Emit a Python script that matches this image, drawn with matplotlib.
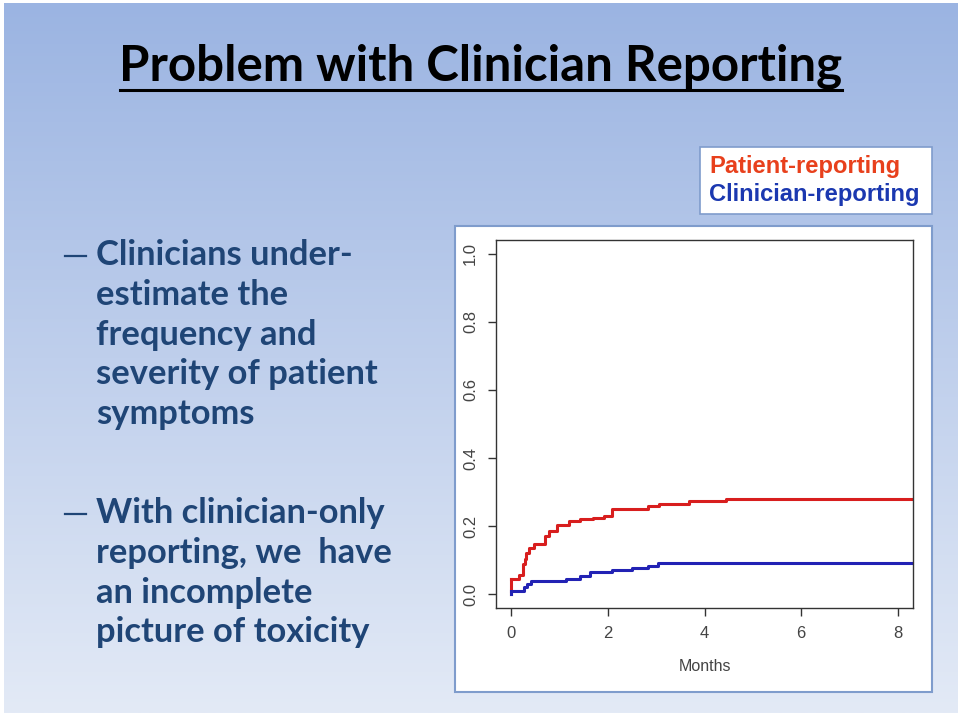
import numpy as np
import matplotlib.pyplot as plt
from matplotlib.patches import Rectangle

# cumulative incidence steps (months, proportion)
patient_t = [0, 0.15, 0.24, 0.28, 0.31, 0.36, 0.46, 0.69, 0.77, 0.94, 1.19,
             1.43, 1.68, 1.91, 2.08, 2.83, 3.05, 3.67, 4.44, 8.31]
patient_y = [0.045, 0.057, 0.09, 0.105, 0.12, 0.135, 0.148, 0.17, 0.186, 0.204, 0.214,
             0.22, 0.225, 0.231, 0.251, 0.258, 0.266, 0.274, 0.28, 0.28]
clinician_t = [0, 0.26, 0.32, 0.41, 1.12, 1.43, 1.63, 2.08, 2.5, 2.83, 3.03, 8.31]
clinician_y = [0.01, 0.023, 0.03, 0.04, 0.045, 0.054, 0.065, 0.071, 0.078, 0.084, 0.092, 0.092]

x_ticks = [0, 2, 4, 6, 8]
y_ticks = [0.0, 0.2, 0.4, 0.6, 0.8, 1.0]

title = 'Problem with Clinician Reporting'
bullet1 = ['Clinicians under-', 'estimate the', 'frequency and', 'severity of patient', 'symptoms']
bullet2 = ['With clinician-only', 'reporting, we  have', 'an incomplete', 'picture of toxicity']

W, H = 960, 716
fig = plt.figure(figsize=(9.6, 7.16), dpi=100)
fig.patch.set_facecolor('white')

# slide background gradient
bg = fig.add_axes([4 / W, 3 / H, 954 / W, 710 / H])
bg.set_zorder(-10)
top = np.array([0x9b, 0xb4, 0xe2]) / 255
bot = np.array([0xe3, 0xea, 0xf6]) / 255
grad = np.linspace(0, 1, 256)[:, None]
img = top[None, None, :] * (1 - grad[:, :, None]) + bot[None, None, :] * grad[:, :, None]
bg.imshow(img, aspect='auto', extent=[0, 1, 0, 1])
bg.axis('off')

def fx(px):
    return px / W

def fy(py):
    return 1 - py / H

# title with underline
fig.text(fx(481), fy(66), title, ha='center', va='center', fontsize=35.5,
         fontweight='bold', family='Lato', color='black')
fig.add_artist(plt.Line2D([fx(120), fx(842)], [fy(90), fy(90)], color='black', lw=2.2))

# bullets
text_color = '#1f4576'
for lines, y0 in [(bullet1, 255), (bullet2, 513)]:
    fig.add_artist(plt.Line2D([fx(65), fx(86)], [fy(y0 + 1), fy(y0 + 1)], color=text_color, lw=1.6))
    for i, line in enumerate(lines):
        fig.text(fx(96), fy(y0 + i * 39.8), line, ha='left', va='center', fontsize=24.8,
                 fontweight='bold', family='Lato', color=text_color)

# white frame behind the plot
fig.add_artist(Rectangle((fx(455), fy(692)), (932 - 455) / W, (692 - 226) / H,
                         transform=fig.transFigure, facecolor='white',
                         edgecolor='#7f9ccc', lw=1.5, zorder=1))

# legend box
fig.add_artist(Rectangle((fx(700), fy(214)), (932 - 700) / W, (214 - 147) / H,
                         transform=fig.transFigure, facecolor='white',
                         edgecolor='#7f9ccc', lw=1.2, zorder=1))
fig.text(fx(709), fy(167), 'Patient-reporting', ha='left', va='center', fontsize=17.1,
         fontweight='bold', family='Liberation Sans', color='#e8401c')
fig.text(fx(709), fy(195), 'Clinician-reporting', ha='left', va='center', fontsize=17.1,
         fontweight='bold', family='Liberation Sans', color='#1b38b0')

# plot
ax = fig.add_axes([fx(496), fy(608), (913 - 496) / W, (608 - 240) / H])
ax.set_zorder(5)
ax.step(patient_t, patient_y, where='post', color='#d81e1e', lw=2.2)
ax.step(clinician_t, clinician_y, where='post', color='#2222b4', lw=2.2)
ax.plot([0, 0], [0, patient_y[0]], color='#d81e1e', lw=2.2)
ax.plot([0, 0], [0, clinician_y[0]], color='#2222b4', lw=2.2)
ax.set_xlim(-0.32, 8.32)
ax.set_ylim(-0.04, 1.04)
ax.set_xticks(x_ticks)
ax.set_yticks(y_ticks)
ax.set_xticklabels([str(v) for v in x_ticks])
ax.set_yticklabels([f'{v:.1f}' for v in y_ticks], rotation=90, va='center')
ax.tick_params(direction='out', length=6, width=1, colors='#333333', labelsize=12,
               labelcolor='#444444', pad=7)
for s in ax.spines.values():
    s.set_color('#333333')
    s.set_linewidth(1)
for lab in ax.get_xticklabels() + ax.get_yticklabels():
    lab.set_family('Liberation Sans')
ax.set_xlabel('Months', family='Liberation Sans', fontsize=11.5, color='#444444', labelpad=13)

fig.savefig('out.png', dpi=100)
